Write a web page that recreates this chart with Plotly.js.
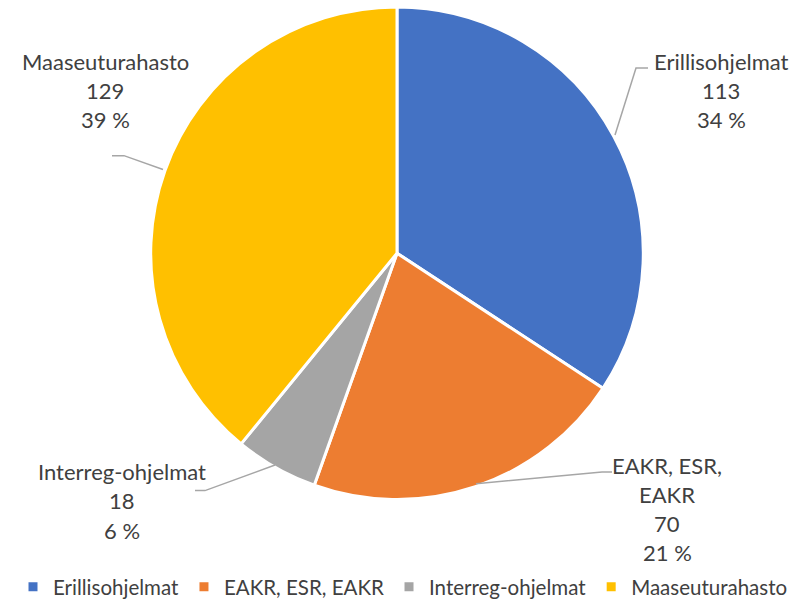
<!DOCTYPE html>
<html>
<head>
<meta charset="utf-8">
<script src="https://cdn.plot.ly/plotly-3.0.1.min.js"></script>
<style>html,body{margin:0;padding:0;background:#fff}#chart{width:806px;height:607px}</style>
</head>
<body>
<div id="chart"></div>
<script>
const categories = ["Erillisohjelmat", "EAKR, ESR, EAKR", "Interreg-ohjelmat", "Maaseuturahasto"];
const values = [113, 70, 18, 129];
const percentLabels = ["34 %", "21 %", "6 %", "39 %"];
const colors = ["#4472C4", "#ED7D31", "#A5A5A5", "#FFC000"];

const W = 806, H = 607;
const FONT = "Lato, 'Open Sans', sans-serif";
const px = x => x / W;
const py = y => 1 - y / H;

// label layout (pixel positions of each label block)
const labelLines = [
  ["Erillisohjelmat"],
  ["EAKR, ESR,", "EAKR"],
  ["Interreg-ohjelmat"],
  ["Maaseuturahasto"]
];
const labelPos = [
  {x: 721, y: 62},
  {x: 667, y: 472},
  {x: 122, y: 479},
  {x: 105, y: 62}
];
const leaders = [
  [[615,137],[636,69],[648,69]],
  [[476,491],[602,479],[612,479]],
  [[275,472],[205,498],[195,498]],
  [[163,172],[124,158],[112,158]]
];
const lineGap = 29.5;

const annotations = [];
categories.forEach((c, i) => {
  const lines = labelLines[i].concat([String(values[i]), percentLabels[i]]);
  lines.forEach((t, j) => {
    annotations.push({
      xref: "paper", yref: "paper",
      x: px(labelPos[i].x), y: py(labelPos[i].y + j * lineGap),
      xanchor: "center", yanchor: "middle",
      text: t, showarrow: false,
      font: {family: FONT, size: 22, color: "#404040"}
    });
  });
});

const shapes = leaders.map(pts => ({
  type: "path", xref: "paper", yref: "paper",
  path: pts.map((p, k) => (k ? "L" : "M") + px(p[0]) + "," + py(p[1])).join(" "),
  line: {color: "#A6A6A6", width: 1.5}
}));

const cx = 397, cy = 257, r = 250;
const data = [{
  type: "pie",
  labels: categories,
  values: values,
  sort: false,
  direction: "clockwise",
  rotation: 0,
  textinfo: "none",
  hoverinfo: "label+value+percent",
  marker: {colors: colors, line: {color: "#FFFFFF", width: 3}},
  domain: {x: [px(cx - r), px(cx + r)], y: [py(cy + r), py(cy - r)]}
}];

const layout = {
  width: W, height: H,
  margin: {l: 0, r: 0, t: 0, b: 0},
  paper_bgcolor: "#FFFFFF",
  showlegend: true,
  legend: {
    orientation: "h", x: 0.5, xanchor: "center", y: py(596), yanchor: "middle",
    font: {family: FONT, size: 20.5, color: "#404040"},
    itemwidth: 30, traceorder: "normal"
  },
  annotations: annotations,
  shapes: shapes
};

Plotly.newPlot("chart", data, layout, {displayModeBar: false, staticPlot: true});
</script>
</body>
</html>
